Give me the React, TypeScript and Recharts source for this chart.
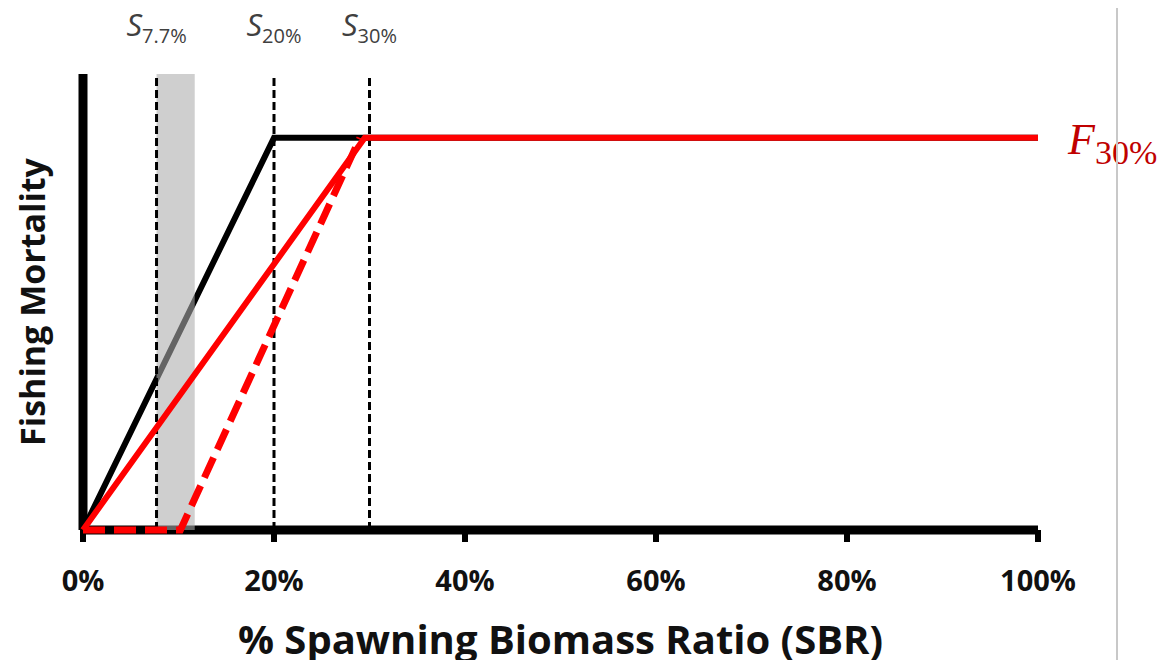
import React from "react"
import {
  LineChart,
  Line,
  XAxis,
  YAxis,
  ReferenceLine,
  ReferenceArea,
  ReferenceDot,
  Label,
} from "recharts"

// x = % SBR, y = relative fishing mortality
const PLATEAU = 0.86
const BLACK_RULE = [
  { sbr: 0, f: 0 },
  { sbr: 20, f: PLATEAU },
  { sbr: 100, f: PLATEAU },
]
const RED_RULE = [
  { sbr: 0, f: 0 },
  { sbr: 29.5, f: PLATEAU },
  { sbr: 100, f: PLATEAU },
]
const RED_DASHED_RULE = [
  { sbr: 0, f: 0 },
  { sbr: 10.2, f: 0 },
  { sbr: 29, f: PLATEAU },
]
const REF_LINES = [
  { x: 7.7, sub: "7.7%" },
  { x: 20, sub: "20%" },
  { x: 30, sub: "30%" },
]
const BAND = [7.7, 11.7]
const X_TICKS = [0, 20, 40, 60, 80, 100]

const FONT = "'Open Sans', 'Noto Sans', sans-serif"

function TopLabel({ viewBox, sub }: any) {
  if (!viewBox) return null
  return (
    <text x={viewBox.x} y={36} textAnchor="middle" fill="#404040" fontFamily={FONT}>
      <tspan fontSize={31} fontStyle="italic">S</tspan>
      <tspan fontSize={20} dy={7}>{sub}</tspan>
    </text>
  )
}

function F30Label({ viewBox }: any) {
  if (!viewBox) return null
  const x = viewBox.x + viewBox.width / 2
  const y = viewBox.y + viewBox.height / 2
  return (
    <text x={x + 30} y={y + 16} fill="#c00000" fontFamily="'Liberation Serif', 'DejaVu Serif', serif">
      <tspan fontSize={44} fontStyle="italic">F</tspan>
      <tspan fontSize={34} dy={10}>30%</tspan>
    </text>
  )
}

function YTitle({ viewBox }: any) {
  if (!viewBox) return null
  const cy = viewBox.y + viewBox.height / 2
  return (
    <text
      x={32}
      y={cy}
      transform={`rotate(-90 32 ${cy})`}
      textAnchor="middle"
      dominantBaseline="central"
      fill="#111"
      fontFamily={FONT}
      fontWeight={700}
      fontSize={34}
    >
      Fishing Mortality
    </text>
  )
}

export default function App() {
  return (
    <div style={{ position: "relative", margin: -8, width: 1169, height: 668, background: "white" }}>
      <LineChart
        width={1169}
        height={668}
        margin={{ top: 74, right: 131, left: 0, bottom: 0 }}
      >
        <XAxis
          type="number"
          dataKey="sbr"
          domain={[0, 100]}
          ticks={X_TICKS}
          tickFormatter={(v) => `${v}%`}
          height={138}
          axisLine={{ stroke: "#000", strokeWidth: 9 }}
          tickLine={{ stroke: "#000", strokeWidth: 6 }}
          tickSize={12}
          tick={{ fill: "#111", fontSize: 29, fontWeight: 700, fontFamily: FONT, dy: 26 }}
          zIndex={300}
        >
          <Label
            value="% Spawning Biomass Ratio (SBR)"
            position="insideBottom"
            offset={14}
            style={{ fill: "#111", fontSize: 40, fontWeight: 700, fontFamily: FONT }}
          />
        </XAxis>
        <YAxis
          type="number"
          domain={[0, 1]}
          width={83}
          tick={false}
          tickLine={false}
          axisLine={{ stroke: "#000", strokeWidth: 9 }}
          zIndex={300}
        >
          <Label content={<YTitle />} />
        </YAxis>

        <Line
          data={BLACK_RULE}
          dataKey="f"
          type="linear"
          stroke="#000"
          strokeWidth={6}
          dot={false}
          isAnimationActive={false}
          zIndex={400}
        />
        <ReferenceArea
          x1={BAND[0]}
          x2={BAND[1]}
          y1={0}
          y2={1}
          fill="#adadad"
          fillOpacity={0.58}
          stroke="none"
          zIndex={450}
        />
        {REF_LINES.map((r) => (
          <ReferenceLine
            key={r.sub}
            x={r.x}
            stroke="#000"
            strokeWidth={3}
            strokeDasharray="8 4"
            label={<TopLabel sub={r.sub} />}
            zIndex={460}
          />
        ))}
        <Line
          data={RED_DASHED_RULE}
          dataKey="f"
          type="linear"
          stroke="#ff0000"
          strokeWidth={7}
          strokeDasharray="22 9"
          dot={false}
          isAnimationActive={false}
          zIndex={500}
        />
        <Line
          data={RED_RULE}
          dataKey="f"
          type="linear"
          stroke="#ff0000"
          strokeWidth={6}
          dot={false}
          isAnimationActive={false}
          zIndex={510}
        />
        <ReferenceDot x={100} y={PLATEAU} r={0} fill="none" stroke="none" label={<F30Label />} zIndex={520} />
      </LineChart>
      <div
        style={{
          position: "absolute",
          left: 1116,
          top: 0,
          width: 2,
          height: 668,
          background: "#c8c8c8",
        }}
      />
    </div>
  )
}
